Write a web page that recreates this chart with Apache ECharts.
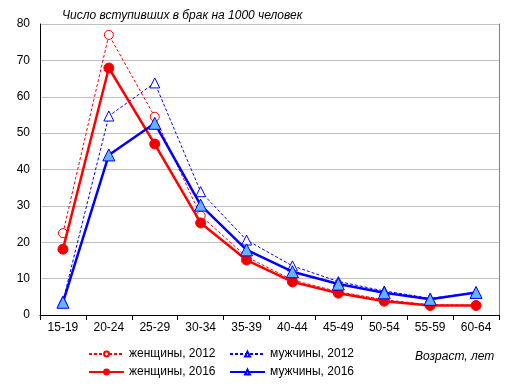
<!DOCTYPE html>
<html><head><meta charset="utf-8">
<script src="https://cdn.jsdelivr.net/npm/echarts@6/dist/echarts.min.js"></script>
<style>html,body{margin:0;padding:0;background:#fff}#c{width:514px;height:390px}</style>
</head><body><div id="c"></div>
<script>
const categories = ['15-19','20-24','25-29','30-34','35-39','40-44','45-49','50-54','55-59','60-64'];
const women2012 = [22.5, 77.0, 54.5, 27.3, 16.0, 9.6, 6.4, 4.2, 2.8, 2.7];
const men2012   = [3.8, 54.7, 63.8, 33.9, 20.6, 13.5, 9.2, 6.6, 4.6, 6.2];
const women2016 = [18.1, 67.9, 47.0, 25.3, 15.1, 9.1, 6.0, 3.8, 2.6, 2.6];
const men2016   = [3.5, 44.0, 52.7, 30.2, 17.9, 11.9, 8.5, 6.1, 4.3, 6.2];
const yTicks = [0,10,20,30,40,50,60,70,80];
const titleText = 'Число вступивших в брак на 1000 человек';
const xTitle = 'Возраст, лет';

const chart = echarts.init(document.getElementById('c'), null, {renderer:'canvas'});
const font = 'Liberation Sans, Arial, sans-serif';
function lg(name, left, top){
  return {left:left, top:top, itemWidth:35, itemHeight:6, padding:0, textStyle:{fontSize:12, fontFamily:font, color:'#000'}, data:[name]};
}
chart.setOption({
  animation:false,
  textStyle:{fontFamily:font},
  title:{text:titleText, left:57, top:5, textStyle:{fontFamily:font, fontSize:12, fontStyle:'italic', fontWeight:'normal', color:'#000'}},
  grid:{left:40, right:15, top:24, bottom:75, containLabel:false},
  xAxis:{type:'category', data:categories, boundaryGap:true,
    axisLine:{lineStyle:{color:'#000'}},
    axisTick:{show:true, alignWithLabel:false, length:5, lineStyle:{color:'#000'}},
    axisLabel:{color:'#000', fontSize:12, fontFamily:font, margin:7, interval:0}},
  yAxis:[{type:'value', min:yTicks[0], max:yTicks[yTicks.length-1], interval:10,
    axisLine:{show:true, lineStyle:{color:'#000'}},
    axisTick:{show:false},
    splitLine:{lineStyle:{color:'#c0c0c0'}},
    axisLabel:{color:'#000', fontSize:12, fontFamily:font, margin:10}},
    {type:'value', min:0, max:80, interval:10, position:'right',
    axisLine:{show:true, lineStyle:{color:'#808080'}}, axisTick:{show:false}, axisLabel:{show:false}, splitLine:{show:false}}],
  legend:[
    lg('женщины, 2012', 88, 348), lg('женщины, 2016', 88, 366),
    lg('мужчины, 2012', 229, 348), lg('мужчины, 2016', 229, 366)
  ],
  graphic:[{type:'text', left:415, top:351, style:{text:xTitle, font:'italic 12px '+font, fill:'#000'}}],
  series:[
    {name:'женщины, 2012', type:'line', data:women2012, symbol:'circle', symbolSize:9, z:2,
      lineStyle:{color:'#ff0000', width:1, type:[3,2]}, itemStyle:{color:'#fff', borderColor:'#ff0000', borderWidth:1}},
    {name:'мужчины, 2012', type:'line', data:men2012, symbol:'triangle', symbolSize:10, z:3,
      lineStyle:{color:'#0000ff', width:1, type:[3,2]}, itemStyle:{color:'#fff', borderColor:'#0000ff', borderWidth:1}},
    {name:'женщины, 2016', type:'line', data:women2016, symbol:'circle', symbolSize:10, z:4,
      lineStyle:{color:'#ff0000', width:2.5}, itemStyle:{color:'#ee0000', borderColor:'#ff0000', borderWidth:1}},
    {name:'мужчины, 2016', type:'line', data:men2016, symbol:'triangle', symbolSize:12, z:5,
      lineStyle:{color:'#0000ff', width:2.5}, itemStyle:{color:'#66b3ff', borderColor:'#0000ff', borderWidth:1}}
  ]
});
</script></body></html>
